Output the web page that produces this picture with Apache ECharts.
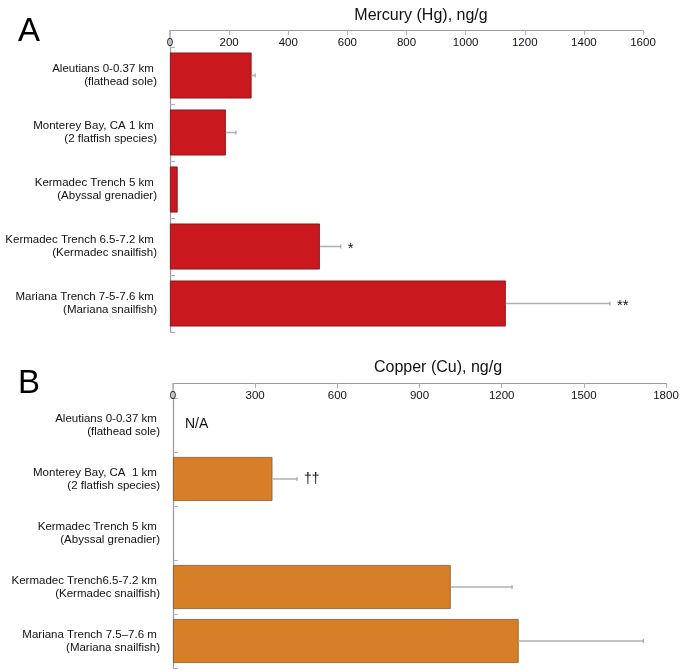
<!DOCTYPE html>
<html><head><meta charset="utf-8">
<script src="https://cdn.jsdelivr.net/npm/echarts@6/dist/echarts.min.js"></script>
<style>html,body{margin:0;padding:0;background:#fff}#c{width:681px;height:671px}</style>
</head><body><div id="c"></div>
<script>
const hgCategories = [
  'Aleutians 0-0.37 km \n(flathead sole)',
  'Monterey Bay, CA 1 km \n(2 flatfish species)',
  'Kermadec Trench 5 km \n(Abyssal grenadier)',
  'Kermadec Trench 6.5-7.2 km \n(Kermadec snailfish)',
  'Mariana Trench 7-5-7.6 km \n(Mariana snailfish)'
];
const cuCategories = [
  'Aleutians 0-0.37 km \n(flathead sole)',
  'Monterey Bay, CA  1 km \n(2 flatfish species)',
  'Kermadec Trench 5 km \n(Abyssal grenadier)',
  'Kermadec Trench6.5-7.2 km \n(Kermadec snailfish)',
  'Mariana Trench 7.5\u20137.6 m \n(Mariana snailfish)'
];
const hgValues = [276, 189, 26, 507, 1136];
const hgErrors = [12, 34, 0, 71, 352];
const hgNotes = ['', '', '', '*', '**'];
const cuValues = [null, 363, null, 1014, 1262];
const cuErrors = [0, 90, 0, 224, 455];
const cuNotes = ['N/A', '\u2020\u2020', '', '', ''];
const hgTicks = [0, 200, 400, 600, 800, 1000, 1200, 1400, 1600];
const cuTicks = [0, 300, 600, 900, 1200, 1500, 1800];

const FONT = 'Liberation Sans, Arial, Helvetica, sans-serif';
const AXIS = '#9a9a9a', TICK = '#a9a7f5';

function errData(vals, errs, notes) {
  return vals.map((v, i) => [i, v == null ? 0 : v, errs[i], notes[i], v == null ? 1 : 0]);
}
const errA = errData(hgValues, hgErrors, hgNotes);
const errB = errData(cuValues, cuErrors, cuNotes);

function renderErr(params, api) {
  const i = api.value(0), v = api.value(1), e = api.value(2);
  const children = [];
  const d = params.seriesIndex === 1 ? errA[params.dataIndex] : errB[params.dataIndex];
  const p0 = api.coord([v, i]);
  const p1 = api.coord([v + e, i]);
  if (e > 0) {
    children.push({type: 'line', shape: {x1: p0[0], y1: p0[1], x2: p1[0], y2: p1[1]},
      style: {stroke: '#b0b0b0', lineWidth: 1.5}});
    children.push({type: 'line', shape: {x1: p1[0], y1: p1[1] - 2, x2: p1[0], y2: p1[1] + 2},
      style: {stroke: '#999', lineWidth: 1}});
  }
  if (d[3]) {
    const isNA = d[4] === 1;
    const star = d[3][0] === '*';
    children.push({type: 'text', x: p1[0] + (isNA ? 12 : 7), y: p1[1] + (isNA ? -1 : (star ? 2 : 0)),
      style: {text: d[3], fill: '#111', font: (isNA ? '14px ' : (star ? '15px ' : '14px ')) + FONT,
        verticalAlign: 'middle', align: 'left'}});
  }
  return {type: 'group', children};
}

function xAx(gi, max, interval, ticks) {
  return {
    type: 'value', gridIndex: gi, position: 'top', offset: gi === 0 ? 17 : 15,
    min: 0, max: max, interval: interval,
    axisLine: {show: true, lineStyle: {color: AXIS, width: 1}},
    axisTick: {show: true, inside: true, length: 5, lineStyle: {color: TICK, width: 1}},
    axisLabel: {inside: true, margin: 7, color: '#111', fontSize: 11.5, fontFamily: FONT,
      formatter: v => ticks.indexOf(v) >= 0 ? String(v) : ''},
    splitLine: {show: false}
  };
}
function yAx(gi, cats) {
  return {
    type: 'category', gridIndex: gi, data: cats, inverse: true,
    axisLine: {show: true, lineStyle: {color: AXIS, width: 1.2}},
    axisTick: {show: true, inside: true, length: 5, lineStyle: {color: TICK, width: 1}},
    axisLabel: {color: '#111', fontSize: 11.5, lineHeight: 13, fontFamily: FONT, margin: 13, align: 'right',
      padding: [4, 0, 0, 0]}
  };
}

const gridA = {left: 170, right: 38, top: 47, height: 285, containLabel: false, outerBoundsMode: 'none'};
const gridB = {left: 173, right: 15, top: 398, height: 270, containLabel: false, outerBoundsMode: 'none'};

const chart = echarts.init(document.getElementById('c'), null, {renderer: 'canvas'});
chart.setOption({
  animation: false,
  backgroundColor: '#fff',
  title: [
    {text: 'A', left: 13, top: 10, textStyle: {fontSize: 33, fontWeight: 'normal', color: '#000', fontFamily: FONT}},
    {text: 'Mercury (Hg), ng/g', left: 416, top: 3, textAlign: 'center', textStyle: {fontSize: 16, fontWeight: 'normal', color: '#111', fontFamily: FONT}},
    {text: 'B', left: 13, top: 362, textStyle: {fontSize: 33, fontWeight: 'normal', color: '#000', fontFamily: FONT}},
    {text: 'Copper (Cu), ng/g', left: 433, top: 355, textAlign: 'center', textStyle: {fontSize: 16, fontWeight: 'normal', color: '#111', fontFamily: FONT}}
  ],
  graphic: [
    {type: 'line', shape: {x1: gridA.left, y1: gridA.top - 17, x2: gridA.left, y2: gridA.top}, style: {stroke: AXIS, lineWidth: 1.2}},
    {type: 'line', shape: {x1: gridB.left, y1: gridB.top - 15, x2: gridB.left, y2: gridB.top}, style: {stroke: AXIS, lineWidth: 1.2}}
  ],
  grid: [gridA, gridB],
  xAxis: [xAx(0, 1600, 200, hgTicks), xAx(1, 1800, 300, cuTicks)],
  yAxis: [yAx(0, hgCategories), yAx(1, cuCategories)],
  series: [
    {type: 'bar', xAxisIndex: 0, yAxisIndex: 0, data: hgValues, barWidth: 46,
      itemStyle: {color: '#c9191e', borderColor: '#7a1013', borderWidth: 0.8}},
    {type: 'custom', xAxisIndex: 0, yAxisIndex: 0, data: errA.map(d => [d[0], d[1], d[2]]), renderItem: renderErr, z: 5},
    {type: 'bar', xAxisIndex: 1, yAxisIndex: 1, data: cuValues, barWidth: 44,
      itemStyle: {color: '#d67f27', borderColor: '#7d5a36', borderWidth: 0.8}},
    {type: 'custom', xAxisIndex: 1, yAxisIndex: 1, data: errB.map(d => [d[0], d[1], d[2]]), renderItem: renderErr, z: 5}
  ]
});
</script></body></html>
